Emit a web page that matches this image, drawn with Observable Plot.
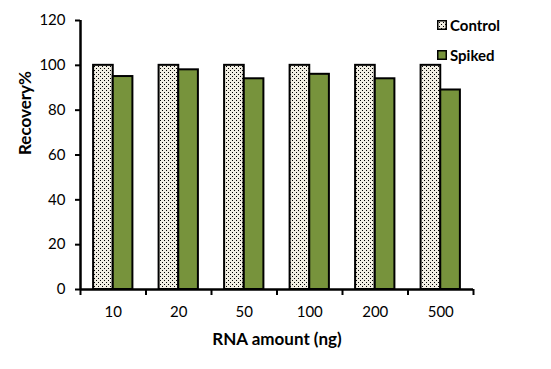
<!DOCTYPE html>
<html>
<head>
<meta charset="utf-8">
<script src="https://cdn.jsdelivr.net/npm/d3@7"></script>
<script src="https://cdn.jsdelivr.net/npm/@observablehq/plot@0.6"></script>
<style>
  body { margin: 0; background: #fff; }
  #wrap { position: relative; width: 551px; height: 369px; font-family: Lato, "Open Sans", sans-serif; }
  #legend { position: absolute; left: 437px; top: 17px; font-weight: bold; font-size: 15px; color: #000; }
  .item { display: flex; align-items: center; height: 16px; margin-bottom: 14px; }
  .item svg { margin-right: 3px; }
</style>
</head>
<body>
<div id="wrap"></div>
<script>
const categories = ["10", "20", "50", "100", "200", "500"];
const control = [100, 100, 100, 100, 100, 100];
const spiked = [95, 98, 94, 96, 94, 89];
const yTicks = [0, 20, 40, 60, 80, 100, 120];
const seriesNames = ["Control", "Spiked"];
const spikedColor = "#77933C";

const rows = categories.flatMap((c, i) => [
  {cat: c, i, series: "Control", value: control[i]},
  {cat: c, i, series: "Spiked", value: spiked[i]}
]);
const boundaries = d3.range(categories.length + 1);

const chart = Plot.plot({
  width: 551,
  height: 369,
  marginLeft: 80,
  marginRight: 78,
  marginTop: 20,
  marginBottom: 80,
  style: {fontFamily: "Lato, 'Open Sans', sans-serif", fontSize: "15px", color: "#000", background: "#fff"},
  x: {domain: [0, categories.length], axis: null},
  y: {domain: [0, 120], axis: null},
  marks: [
    Plot.rectY(rows.filter(d => d.series === "Control"), {
      x1: d => d.i + 0.2, x2: d => d.i + 0.5, y: "value",
      fill: "url(#stipple)", stroke: "#000", strokeWidth: 2
    }),
    Plot.rectY(rows.filter(d => d.series === "Spiked"), {
      x1: d => d.i + 0.5, x2: d => d.i + 0.8, y: "value",
      fill: spikedColor, stroke: "#000", strokeWidth: 2
    }),
    Plot.axisY({ticks: yTicks, tickSize: 5, tickPadding: 10, strokeWidth: 2, fontSize: 15, label: null}),
    Plot.axisX({ticks: boundaries, tickSize: 6, strokeWidth: 2, tickFormat: () => "", label: null}),
    Plot.ruleY([0], {strokeWidth: 2.5}),
    Plot.ruleX([0], {strokeWidth: 2.5}),
    Plot.text(categories, {x: (d, i) => i + 0.5, y: 0, dy: 23, text: d => d, fontSize: 15, lineAnchor: "middle"}),
    Plot.text(["RNA amount (ng)"], {frameAnchor: "bottom", dy: 50, fontWeight: "bold", fontSize: 17, lineAnchor: "middle"}),
    Plot.text(["Recovery%"], {frameAnchor: "left", dx: -55, rotate: -90, fontWeight: "bold", fontSize: 17, lineAnchor: "middle"})
  ]
});

// stipple pattern for the Control bars
const defs = d3.select(chart).insert("defs", ":first-child");
const pat = defs.append("pattern").attr("id", "stipple").attr("patternUnits", "userSpaceOnUse")
  .attr("width", 4).attr("height", 4);
pat.append("rect").attr("width", 4).attr("height", 4).attr("fill", "#f1eee3");
pat.append("rect").attr("x", 0).attr("y", 0).attr("width", 1).attr("height", 1).attr("fill", "#000");
pat.append("rect").attr("x", 2).attr("y", 2).attr("width", 1).attr("height", 1).attr("fill", "#000");

const wrap = document.getElementById("wrap");
wrap.appendChild(chart);

const legend = document.createElement("div");
legend.id = "legend";
seriesNames.forEach((name, k) => {
  const item = document.createElement("div");
  item.className = "item";
  const fill = k === 0 ? "url(#stipple)" : spikedColor;
  item.innerHTML = `<svg width="10" height="10"><rect x="0.75" y="0.75" width="8.5" height="8.5" fill="${fill}" stroke="#000" stroke-width="1.5"/></svg><span>${name}</span>`;
  legend.appendChild(item);
});
wrap.appendChild(legend);
</script>
</body>
</html>
